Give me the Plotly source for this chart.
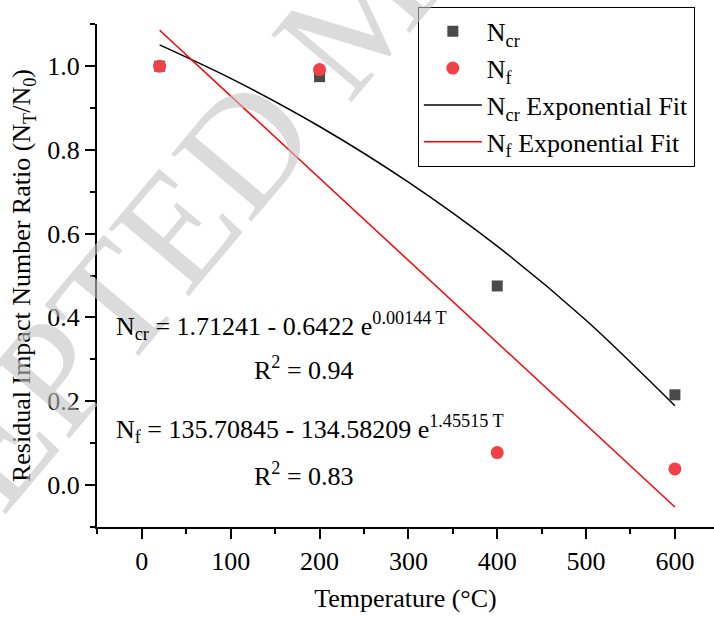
import plotly.graph_objects as go

# ---- data ----
temperature = [20, 200, 400, 600]
n_cr = [1.0, 0.975, 0.475, 0.215]
n_f = [1.0, 0.992, 0.077, 0.038]

fit_temperature = [20, 100, 200, 300, 400, 500, 600]
n_cr_fit = [1.051, 0.971, 0.856, 0.723, 0.570, 0.393, 0.189]
n_f_fit = [1.086, 0.929, 0.733, 0.536, 0.340, 0.143, -0.053]

x_ticks = [0, 100, 200, 300, 400, 500, 600]
y_ticks = [0.0, 0.2, 0.4, 0.6, 0.8, 1.0]

FONT = "Liberation Serif"

fig = go.Figure()

fig.add_trace(go.Scatter(
    x=fit_temperature, y=n_cr_fit, mode="lines",
    line=dict(color="black", width=1.5, shape="spline", smoothing=0.8),
    name="N<sub>cr</sub> Exponential Fit", legendrank=3))
fig.add_trace(go.Scatter(
    x=fit_temperature, y=n_f_fit, mode="lines",
    line=dict(color="#ff0000", width=1.5),
    name="N<sub>f</sub> Exponential Fit", legendrank=4))
fig.add_trace(go.Scatter(
    x=temperature, y=n_cr, mode="markers",
    marker=dict(symbol="square", size=11, color="#4a4a4a"),
    name="N<sub>cr</sub>", legendrank=1))
fig.add_trace(go.Scatter(
    x=temperature, y=n_f, mode="markers",
    marker=dict(symbol="circle", size=13, color="#f04146"),
    name="N<sub>f</sub>", legendrank=2))

# watermark
fig.add_annotation(
    text="ACCEPTED MANUSCRIPT", xref="paper", yref="paper",
    x=0.4263, y=1.0318, xanchor="center", yanchor="middle",
    textangle=-50, showarrow=False,
    font=dict(family=FONT, size=160, color="rgba(195,195,195,0.6)"))

# equations
eq_font = dict(family=FONT, size=26, color="black")
fig.add_annotation(text="N<sub>cr</sub> = 1.71241 - 0.6422 e<sup>0.00144 T</sup>",
                   x=-31, y=0.38, xref="x", yref="y", xanchor="left", yanchor="middle",
                   showarrow=False, font=eq_font)
fig.add_annotation(text="R<sup>2</sup> = 0.94",
                   x=182, y=0.277, xref="x", yref="y", xanchor="center", yanchor="middle",
                   showarrow=False, font=eq_font)
fig.add_annotation(text="N<sub>f</sub> = 135.70845 - 134.58209 e<sup>1.45515 T</sup>",
                   x=-31, y=0.134, xref="x", yref="y", xanchor="left", yanchor="middle",
                   showarrow=False, font=eq_font)
fig.add_annotation(text="R<sup>2</sup> = 0.83",
                   x=182, y=0.024, xref="x", yref="y", xanchor="center", yanchor="middle",
                   showarrow=False, font=eq_font)

axis_common = dict(
    showline=True, linecolor="black", linewidth=2,
    ticks="outside", ticklen=10, tickwidth=2, tickcolor="black",
    showgrid=False, zeroline=False, mirror=False,
    tickfont=dict(family=FONT, size=26, color="black"),
)

fig.update_xaxes(
    range=[-50.5, 644], tickvals=x_ticks,
    minor=dict(ticks="outside", ticklen=5, tickwidth=2, tickcolor="black", dtick=50, tick0=0),
    title=dict(text="Temperature (°C)", font=dict(family=FONT, size=26, color="black"), standoff=14),
    **axis_common)
fig.update_yaxes(
    range=[-0.1008, 1.1008], tickvals=y_ticks, tickformat=".1f",
    minor=dict(ticks="outside", ticklen=5, tickwidth=2, tickcolor="black", dtick=0.1, tick0=0),
    title=dict(text="Residual Impact Number Ratio (N<sub>T</sub>/N<sub>0</sub>)",
               font=dict(family=FONT, size=26, color="black"), standoff=9),
    **axis_common)

fig.update_layout(
    width=714, height=619,
    margin=dict(l=97, r=0, t=24, b=92),
    plot_bgcolor="white", paper_bgcolor="white",
    font=dict(family=FONT, size=26, color="black"),
    showlegend=True,
    legend=dict(
        x=0.52, y=1.034, xanchor="left", yanchor="top",
        bordercolor="black", borderwidth=1, bgcolor="white",
        font=dict(family=FONT, size=26, color="black"),
        itemwidth=58, tracegroupgap=0,
    ),
)

fig.write_html("out.html")
